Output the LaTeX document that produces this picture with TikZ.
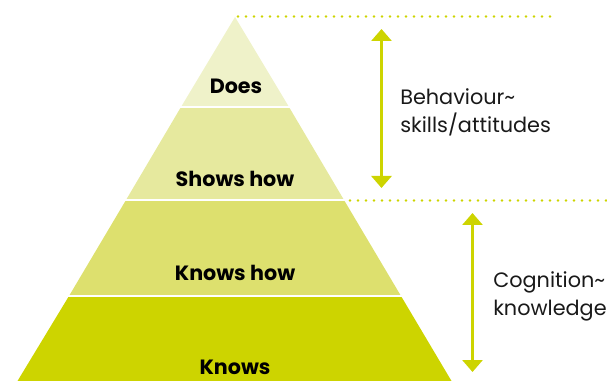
\documentclass[tikz,border=0pt]{standalone}
\usepackage{fontspec}
\setmainfont{Poppins}
\usetikzlibrary{arrows.meta}
\definecolor{lime}{HTML}{CDD400}
\definecolor{layerA}{HTML}{EFF2C9}
\definecolor{layerB}{HTML}{E6E99E}
\definecolor{layerC}{HTML}{DDE06E}
\definecolor{layerD}{HTML}{CDD400}
\tikzset{
  layer/.style={draw=white, line width=1.5pt},
  lbl/.style={font=\bfseries\fontsize{15.5}{18}\selectfont, text=black, inner sep=0pt},
  side/.style={font=\fontsize{15.6}{21}\selectfont, align=left, anchor=west, inner sep=0pt, text=black!90},
  dots/.style={lime, line width=2pt, line cap=round, dash pattern=on 0pt off 6pt},
  span/.style={lime, line width=2.2pt, {Triangle[width=15pt,length=9pt]}-{Triangle[width=15pt,length=9pt]}}
}
\begin{document}
\begin{tikzpicture}[x=0.75pt,y=-0.75pt]
\useasboundingbox (0,0) rectangle (607,381);
% pyramid: half width = 0.596*(y-17), apex (235,17)
\fill[layerD] (17.5,381) -- (451.5,381) -- (401,296) -- (69,296) -- cycle;
\fill[layerC] (69,296) -- (401,296) -- (344,200) -- (126,200) -- cycle;
\fill[layerB] (126,200) -- (344,200) -- (289,107) -- (181,107) -- cycle;
\fill[layerA] (181,107) -- (289,107) -- (235,17) -- cycle;
\draw[white, line width=1.6pt] (60,296) -- (410,296);
\draw[white, line width=1.6pt] (118,200) -- (352,200);
\draw[white, line width=1.6pt] (172,107) -- (298,107);
\node[lbl] (does) at (236,86) {Does};
\node[lbl] (shows) at (235,179) {Shows how};
\node[lbl] (knowshow) at (235,273) {Knows how};
\node[lbl] (knows) at (235,367) {Knows};
% dotted guides
\coordinate (d1a) at (238,16.5);
\coordinate (d1b) at (555,16.5);
\coordinate (d2a) at (350,200.5);
\coordinate (d2b) at (607,200.5);
\draw[dots] (d1a) -- (d1b);
\draw[dots] (d2a) -- (d2b);
% arrows
\coordinate (a1t) at (381.5,29);
\coordinate (a1b) at (381.5,188);
\coordinate (a2t) at (472.5,213);
\coordinate (a2b) at (472.5,372);
\draw[span] (a1t) -- (a1b);
\draw[span] (a2t) -- (a2b);
\node[side] (beh) at (400,112) {Behaviour\char`~\\skills/attitudes};
\node[side] (cog) at (493,296) {Cognition\char`~\\knowledge};
\end{tikzpicture}
\end{document}
